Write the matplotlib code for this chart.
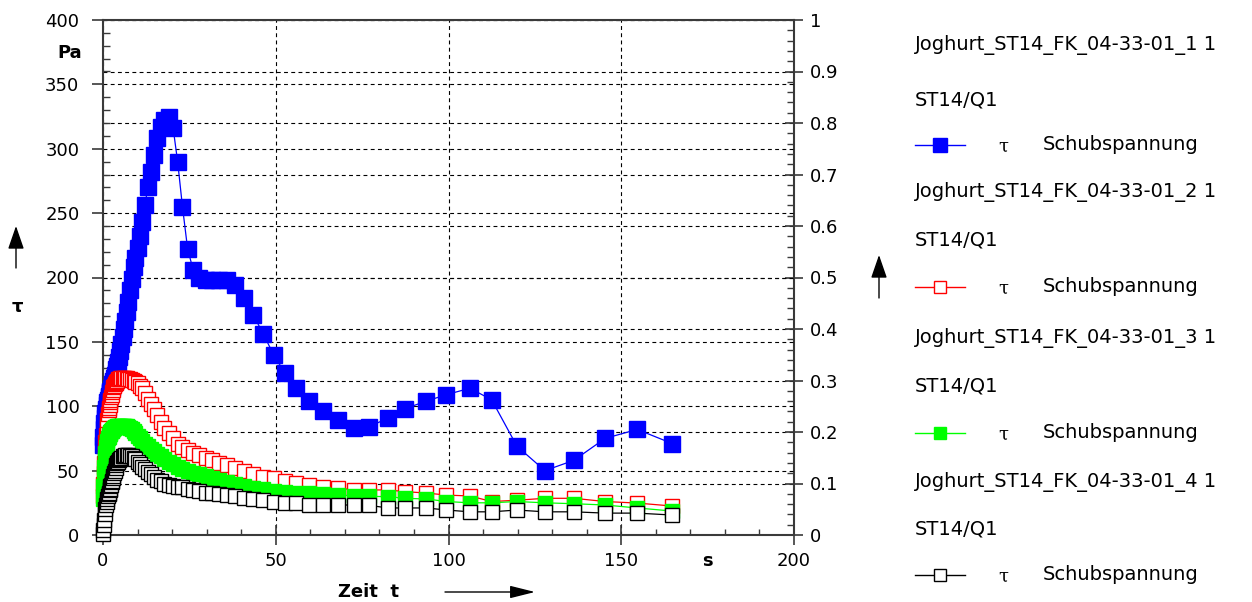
import matplotlib
matplotlib.use("Agg")
import matplotlib.pyplot as plt
from matplotlib.ticker import MultipleLocator, FixedLocator, FixedFormatter

# ---------------- data ----------------
time_s = [0.05, 0.12, 0.22, 0.35, 0.5, 0.7, 0.9, 1.1, 1.3, 1.5,
          1.68, 1.79, 1.91, 2.04, 2.17, 2.32, 2.47, 2.63, 2.8, 2.99,
          3.19, 3.4, 3.62, 3.86, 4.11, 4.38, 4.67, 4.98, 5.31, 5.66,
          6.03, 6.43, 6.85, 7.3, 7.8, 8.3, 8.85, 9.4, 10.05, 10.7,
          11.4, 12.15, 12.95, 13.8, 14.7, 15.7, 16.7, 17.8, 19.0, 20.3,
          21.6, 23.0, 24.5, 26.1, 27.8, 29.7, 31.6, 33.7, 35.9, 38.3,
          40.8, 43.5, 46.4, 49.4, 52.6, 56.0, 59.5, 63.7, 68.0, 72.7,
          77.1, 82.5, 87.3, 93.6, 99.4, 106.2, 112.5, 119.8, 127.9, 136.3,
          145.3, 154.6, 164.8]

tau_1 = [70, 76, 82, 87, 91, 95, 98, 101, 103, 105,
         107, 108, 110, 111, 112, 114, 115, 117, 118, 120,
         122, 124, 126, 129, 131, 134, 138, 143, 148, 154,
         160, 166, 173, 181, 190, 199, 208, 215, 223, 232,
         243, 256, 270, 282, 295, 308, 317, 322, 325, 316,
         290, 255, 222, 206, 200, 198, 198, 198, 198, 194,
         184, 171, 156, 140, 126, 114, 104, 96, 89, 83,
         84, 91, 98, 104, 109, 114, 105, 69, 50, 58,
         75, 82, 71]

tau_2 = [30, 40, 48, 56, 64, 72, 78, 84, 89, 94,
         97, 99, 101, 103, 105, 107, 109, 111, 113, 115,
         116, 117, 118, 119, 120, 121, 121.5, 122, 122, 122,
         122, 122, 122, 121.5, 121, 120.5, 120, 119, 118, 116,
         114, 110, 106, 102, 98, 93, 88, 83, 79, 75,
         71, 68.5, 66, 64, 62, 60, 58, 56, 54, 52,
         49.5, 47, 45, 44, 42, 40.5, 39, 37.5, 36.5, 35,
         35, 35, 33.7, 32.6, 31, 30.3, 26, 27, 28.5, 28.5,
         26, 24.8, 22.5]

tau_3 = [28, 38, 46, 53, 59, 64, 68, 71, 73, 75,
         76.5, 77.5, 78.5, 79, 80, 80.5, 81, 81.5, 82, 82.5,
         83, 83.5, 84, 84, 84.5, 84.5, 85, 85, 85, 85,
         85, 85, 84.5, 84, 83, 82, 80.5, 79, 77, 75,
         73, 71, 69, 67, 65, 63, 61, 59, 57, 55,
         53, 51.5, 50, 48.5, 47, 45.5, 44, 42.5, 41, 39.5,
         38, 36.5, 35.5, 34.5, 33.5, 33, 32.6, 32, 31, 30.5,
         30, 29.8, 28.5, 28, 26, 25, 25, 26, 25, 24.3,
         23.3, 21, 18.6]

tau_4 = [1, 4, 8, 12, 16, 20, 23, 26, 28, 30,
         32, 33, 35, 36, 38, 39, 41, 42, 44, 46,
         48, 50, 52, 54, 56, 57, 58, 59, 60, 61,
         61, 62, 62, 62, 61, 61, 60, 59, 57, 55,
         53, 51, 49, 47, 45, 43, 42, 40, 39, 38,
         37.5, 37, 36, 35, 34, 33, 32.5, 32, 31, 30,
         29, 28, 27, 26, 25, 24.5, 23.5, 23.3, 23.3, 23.3,
         23, 21, 21, 21, 19.4, 18, 18, 19.4, 18, 18,
         17, 17, 15.5]

series_names = ["Joghurt_ST14_FK_04-33-01_1 1", "Joghurt_ST14_FK_04-33-01_2 1",
                "Joghurt_ST14_FK_04-33-01_3 1", "Joghurt_ST14_FK_04-33-01_4 1"]
series_sub = "ST14/Q1"
series_param = "Schubspannung"
x_ticks = [0, 50, 100, 150, 200]
y_ticks = [0, 50, 100, 150, 200, 250, 300, 350, 400]
y2_ticks = [0, 0.1, 0.2, 0.3, 0.4, 0.5, 0.6, 0.7, 0.8, 0.9, 1]
y2_labels = ["0", "0.1", "0.2", "0.3", "0.4", "0.5", "0.6", "0.7", "0.8", "0.9", "1"]

# ---------------- styles ----------------
BLUE = "#0000ff"
RED = "#ff0000"
GREEN = "#00ff00"
BLACK = "#000000"
styles = [
    dict(color=BLUE, mfc=BLUE, mec=BLUE, ms=11, lw=0.9, z=3),
    dict(color=RED, mfc="white", mec=RED, ms=9.5, lw=0.9, z=4),
    dict(color=GREEN, mfc=GREEN, mec=GREEN, ms=9.5, lw=0.9, z=5),
    dict(color=BLACK, mfc="white", mec=BLACK, ms=9.5, lw=0.9, z=6),
]
SPINE = "#3a3a3a"
FS = 13

W, H = 1252, 602
fig = plt.figure(figsize=(W / 100, H / 100), dpi=100)
L, R, T, B = 103, 794, 20, 535
rect = [L / W, (H - B) / H, (R - L) / W, (B - T) / H]

ax2 = fig.add_axes(rect)
ax = fig.add_axes(rect, sharex=ax2)
ax.set_zorder(ax2.get_zorder() + 1)
ax.patch.set_visible(False)

# right axis (grid + ticks only)
ax2.set_ylim(0, 1)
ax2.yaxis.tick_right()
ax2.yaxis.set_major_locator(FixedLocator(y2_ticks))
ax2.yaxis.set_major_formatter(FixedFormatter(y2_labels))
ax2.yaxis.set_minor_locator(MultipleLocator(0.02))
ax2.tick_params(axis="y", which="major", direction="inout", length=13, width=1.2,
                color=SPINE, labelsize=FS, pad=5)
ax2.tick_params(axis="y", which="minor", direction="in", length=5, width=1, color=SPINE)
ax2.tick_params(axis="x", which="both", bottom=False, labelbottom=False)
ax2.grid(True, axis="y", which="major", color="black", lw=0.8, linestyle=(0, (3.5, 3)))
for s in ax2.spines.values():
    s.set_visible(False)
ax2.spines["right"].set_visible(True)
ax2.spines["right"].set_color(SPINE)
ax2.spines["right"].set_linewidth(1.5)

# data
for vals, st in zip([tau_1, tau_2, tau_3, tau_4], styles):
    ax.plot(time_s, vals, marker="s", color=st["color"], lw=st["lw"], ms=st["ms"],
            mfc=st["mfc"], mec=st["mec"], mew=1.0, zorder=st["z"], clip_on=False)

ax.set_xlim(0, 200)
ax.set_ylim(0, 400)
ax.xaxis.set_major_locator(FixedLocator(x_ticks))
ax.yaxis.set_major_locator(FixedLocator(y_ticks))
ax.xaxis.set_minor_locator(MultipleLocator(10))
ax.yaxis.set_minor_locator(MultipleLocator(10))
ax.tick_params(axis="y", which="major", direction="out", length=8, width=1.2,
               color=SPINE, labelsize=FS, pad=9)
ax.tick_params(axis="y", which="minor", direction="in", length=5, width=1, color=SPINE)
ax.tick_params(axis="x", which="major", direction="inout", length=15, width=1.2,
               color=SPINE, labelsize=FS, pad=5)
ax.tick_params(axis="x", which="minor", direction="in", length=4, width=1, color=SPINE)
ax.grid(True, which="major", color="black", lw=0.8, linestyle=(0, (3.5, 3)))
ax.set_axisbelow(True)
for name, s in ax.spines.items():
    s.set_color(SPINE)
    s.set_linewidth(1.5)
ax.spines["right"].set_visible(False)

# overlay in pixel coordinates for annotations / legend
ov = fig.add_axes([0, 0, 1, 1], zorder=20)
ov.set_xlim(0, W)
ov.set_ylim(H, 0)
ov.axis("off")
ov.patch.set_visible(False)

ov.text(82, 53, "Pa", ha="right", va="center", fontsize=FS, fontweight="bold")
ov.text(17, 307, "τ", ha="center", va="center", fontsize=FS, fontweight="bold")
ov.text(707, 561, "s", ha="center", va="center", fontsize=FS, fontweight="bold")
ov.text(338, 592, "Zeit  t", ha="left", va="center", fontsize=FS, fontweight="bold")

arr_up = dict(arrowstyle="-|>,head_length=1.3,head_width=0.45", color="black", lw=1,
              mutation_scale=11, shrinkA=0, shrinkB=0)
ov.annotate("", xy=(16, 226), xytext=(16, 268), arrowprops=arr_up)
ov.annotate("", xy=(879, 255), xytext=(879, 298), arrowprops=arr_up)
arr_r = dict(arrowstyle="-|>,head_length=1.4,head_width=0.35", color="black", lw=1,
             mutation_scale=11, shrinkA=0, shrinkB=0)
ov.annotate("", xy=(535, 592), xytext=(445, 592), arrowprops=arr_r)

# legend
row_y = [45, 100, 145, 192, 240, 287, 338, 386, 433, 482, 529, 575]
for i, (name, st) in enumerate(zip(series_names, styles)):
    y_name, y_sub, y_line = row_y[3 * i], row_y[3 * i + 1], row_y[3 * i + 2]
    ov.text(915, y_name, name, ha="left", va="center", fontsize=14)
    ov.text(915, y_sub, series_sub, ha="left", va="center", fontsize=14)
    ov.plot([915, 965], [y_line, y_line], color=st["color"], lw=1)
    ov.plot([940], [y_line], marker="s", ms=st["ms"] - 1, mfc=st["mfc"], mec=st["mec"],
            mew=1.0, color=st["color"])
    ov.text(1003, y_line + 2, "τ", ha="center", va="center", fontsize=13,
            family="DejaVu Serif")
    ov.text(1043, y_line, series_param, ha="left", va="center", fontsize=14)

fig.savefig("out.png", dpi=100)
